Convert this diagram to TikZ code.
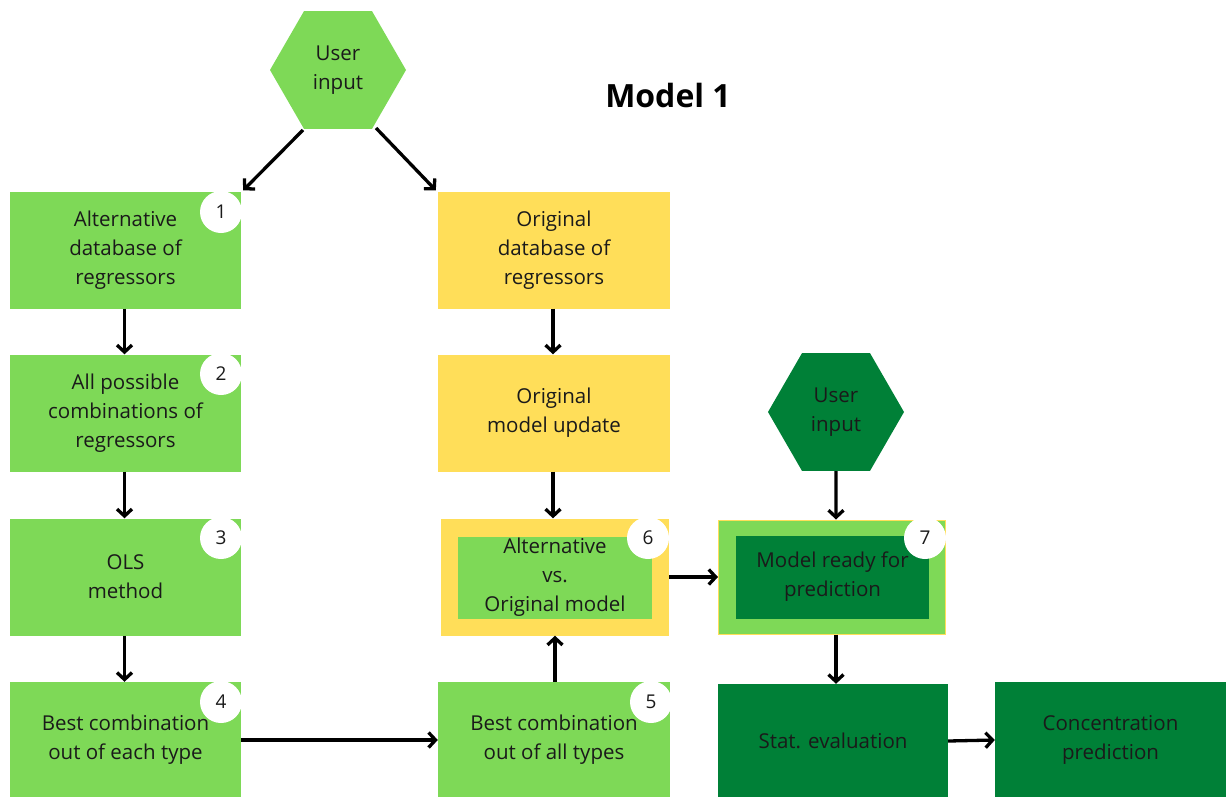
\documentclass[tikz,border=0pt]{standalone}
\usepackage{fontspec}
\setmainfont{Open Sans}
\usetikzlibrary{shapes.geometric,arrows.meta,calc}
\definecolor{lgreen}{HTML}{7ED957}
\definecolor{ylw}{HTML}{FFDE59}
\definecolor{dgreen}{HTML}{008037}
\definecolor{txt}{HTML}{1A1A1A}
\begin{document}
\begin{tikzpicture}[x=1pt,y=-1pt,
  box/.style={rectangle,draw=none,minimum width=231pt,minimum height=117pt,inner sep=0pt,align=center,text=txt,font=\fontsize{20.5}{29}\selectfont},
  lbox/.style={box,fill=lgreen},
  ybox/.style={box,fill=ylw},
  dbox/.style={box,fill=dgreen},
  hexa/.style={regular polygon,regular polygon sides=6,minimum size=136pt,inner sep=0pt,align=center,text=txt,font=\fontsize{20.5}{29}\selectfont},
  num/.style={circle,fill=white,minimum size=42pt,inner sep=0pt,text=txt,font=\fontsize{19}{20}\selectfont},
  arr/.style={line width=3.3pt,-{Straight Barb[length=7pt,width=15pt,line width=3.3pt]}}
]
\useasboundingbox (0,0) rectangle (1226,796);

% title
\node[font=\fontsize{32}{36}\selectfont\bfseries,text=black] (title) at (668,95) {Model 1};

% top hexagon
\node[hexa,fill=lgreen] (hexA) at (338,70) {User\\input};

% left column
\node[lbox] (b1) at (125.5,250) {Alternative\\database of\\regressors};
\node[lbox] (b2) at (125.5,413) {All possible\\combinations of\\regressors};
\node[lbox] (b3) at (125.5,577) {OLS\\method};
\node[lbox,minimum height=116pt] (b4) at (125.5,740) {Best combination\\out of each type};

% middle column
\node[ybox,minimum width=232pt] (o1) at (554,250) {Original\\database of\\regressors};
\node[ybox,minimum width=232pt] (o2) at (554,413) {Original\\model update};
\node[box,fill=ylw,minimum width=228pt] (b6o) at (555,577) {};
\node[lbox,minimum width=194pt,minimum height=82pt] (b6) at (555,577.5) {Alternative\\vs.\\Original model};
\node[lbox,minimum width=232pt,minimum height=116pt] (b5) at (554,740) {Best combination\\out of all types};

% right column
\node[hexa,fill=dgreen] (hexB) at (836,412) {User\\input};
\node[box,fill=lgreen,draw=ylw,line width=1pt,minimum width=227pt,minimum height=114pt] (b7o) at (832,577) {};
\node[dbox,minimum width=193pt,minimum height=83pt] (b7) at (832.5,577) {Model ready for\\prediction};
\node[dbox,minimum width=230pt,minimum height=114pt] (stat) at (833,741) {Stat. evaluation};
\node[dbox,minimum width=231pt,minimum height=116pt] (conc) at (1110.5,740) {Concentration\\prediction};

% number circles
\node[num] (n1) at (221,212) {1};
\node[num] (n2) at (221,374) {2};
\node[num] (n3) at (221,538) {3};
\node[num] (n4) at (221,702) {4};
\node[num] (n5) at (651,702) {5};
\node[num] (n6) at (648,538) {6};
\node[num] (n7) at (925,538) {7};

% connectors
\draw[arr] ($(hexA.center)+(-35,60)$) -- ($(b1.north east)+(2,-1)$);
\draw[arr] ($(hexA.center)+(38,58)$) -- ($(o1.north west)+(-2,-1)$);
\draw[arr] ([xshift=-1pt]b1.south) -- ([xshift=-1pt]b2.north);
\draw[arr] ([xshift=-1pt]b2.south) -- ([xshift=-1pt]b3.north);
\draw[arr] ([xshift=-1pt]b3.south) -- ([xshift=-1pt]b4.north);
\draw[arr] (b4.east) -- (b5.west);
\draw[arr] ([xshift=-1pt]o1.south) -- ([xshift=-1pt]o2.north);
\draw[arr] ([xshift=-1pt]o2.south) -- ([xshift=-2pt]b6o.north);
\draw[arr] ([xshift=1pt]b5.north) -- ([xshift=0pt]b6o.south);
\draw[arr] (b6o.east) -- (b7o.west);
\draw[arr] (hexB.south) -- ([xshift=4pt]b7o.north);
\draw[arr] ([xshift=4pt]b7o.south) -- ([xshift=3pt]stat.north);
\draw[arr] (stat.east) -- (conc.west);
\end{tikzpicture}
\end{document}
